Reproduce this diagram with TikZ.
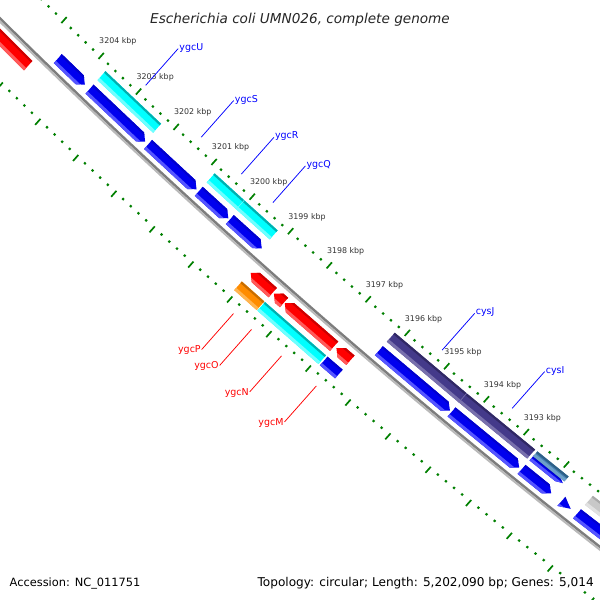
\documentclass[tikz,border=0pt]{standalone}
\usepackage{fontspec}
\setmainfont{DejaVu Sans}
\setsansfont{DejaVu Sans}
\definecolor{gblue}{RGB}{0,0,238}
\definecolor{gbluehi}{RGB}{85,85,255}
\definecolor{gbluelo}{RGB}{0,0,205}
\definecolor{gcyan}{RGB}{0,255,255}
\definecolor{gcyanhi}{RGB}{110,255,255}
\definecolor{gcyanlo}{RGB}{0,175,175}
\definecolor{gred}{RGB}{255,0,0}
\definecolor{gredhi}{RGB}{255,90,90}
\definecolor{gredlo}{RGB}{205,0,0}
\definecolor{gorange}{RGB}{255,140,0}
\definecolor{gorangehi}{RGB}{255,180,80}
\definecolor{gorangelo}{RGB}{200,110,0}
\definecolor{gpurple}{RGB}{68,58,138}
\definecolor{gpurplehi}{RGB}{120,112,172}
\definecolor{gpurplelo}{RGB}{48,40,100}
\definecolor{gsteel}{RGB}{70,130,180}
\definecolor{gsteelhi}{RGB}{110,160,200}
\definecolor{gsteello}{RGB}{45,95,135}
\definecolor{ggrey}{RGB}{200,200,200}
\definecolor{ggreyhi}{RGB}{225,225,225}
\definecolor{ggreylo}{RGB}{170,170,170}
\definecolor{bbdark}{RGB}{125,125,125}
\definecolor{bblight}{RGB}{185,185,185}
\definecolor{tickg}{RGB}{0,128,0}
\definecolor{labblue}{RGB}{0,0,255}
\definecolor{labred}{RGB}{255,0,0}

\makeatletter
\def\gp@parse#1,#2\@nil{\def\gp@s{#1}\def\gp@n{#2}}
\tikzdeclarecoordinatesystem{g}{%
  \gp@parse#1\@nil
  \pgfmathsetmacro\gp@a{abs(\gp@s)/100}%
  \pgfmathsetmacro\gp@q{(\gp@n)+\gp@a*\gp@a*0.7142857}%
  \pgfmathsetmacro\gp@x{310.9+(\gp@s)*0.749+(\gp@q)*0.6626}%
  \pgfmathsetmacro\gp@y{247.2+(\gp@s)*0.6626-(\gp@q)*0.749}%
  \pgfpoint{\gp@x pt}{-\gp@y pt}%
}
\makeatother

% shading of a feature band: s1 s2 n1(outer) n2(inner) colour
\newcommand\gshade[5]{%
  \fill[#5] (g cs:#1-12,#3-1) -- (g cs:#2+12,#3-1) -- (g cs:#2+12,#4+1) -- (g cs:#1-12,#4+1) -- cycle;
  \fill[#5hi] (g cs:#1-12,#3-1) -- (g cs:#2+12,#3-1) -- (g cs:#2+12,#3+3) -- (g cs:#1-12,#3+3) -- cycle;
  \fill[#5lo] (g cs:#1-12,#4-2.2) -- (g cs:#2+12,#4-2.2) -- (g cs:#2+12,#4+1) -- (g cs:#1-12,#4+1) -- cycle;
}
\newcommand\gbar[5]{%
  \begin{scope}
    \clip (g cs:#1,#3) -- (g cs:#2,#3) -- (g cs:#2,#4) -- (g cs:#1,#4) -- cycle;
    \gshade{#1}{#2}{#3}{#4}{#5}%
  \end{scope}}
\newcommand\fwdarrow[5]{%
  \begin{scope}
    \clip (g cs:#1,#3) -- (g cs:#2-7,#3) -- (g cs:#2,{0.5*(#3)+0.5*(#4)}) -- (g cs:#2-7,#4) -- (g cs:#1,#4) -- cycle;
    \gshade{#1}{#2}{#3}{#4}{#5}%
  \end{scope}}
\newcommand\revarrow[5]{%
  \begin{scope}
    \clip (g cs:#1,{0.5*(#3)+0.5*(#4)}) -- (g cs:#1+7,#4) -- (g cs:#2,#4) -- (g cs:#2,#3) -- (g cs:#1+7,#3) -- cycle;
    \gshade{#1}{#2}{#3}{#4}{#5}%
  \end{scope}}
\newcommand\gtri[5]{%
  \begin{scope}
    \clip (g cs:#1,#3) -- (g cs:#2,{0.5*(#3)+0.5*(#4)}) -- (g cs:#1,#4) -- cycle;
    \gshade{#1}{#2}{#3}{#4}{#5}%
  \end{scope}}
\newcommand\uplabel[3]{%
  \draw[uline] (g cs:#1,8) -- (g cs:#1,57) coordinate (#3e);
  \node[genelab, text=labblue, anchor=west, xshift=1pt, yshift=1pt] (#3) at (#3e) {#2};}
\newcommand\lowlabel[3]{%
  \draw[lline] (g cs:#1,-101) -- (g cs:#1,-149) coordinate (#3e);
  \node[genelab, text=labred, anchor=east, xshift=-0.8pt, yshift=-1pt] (#3) at (#3e) {#2};}

\begin{document}
\begin{tikzpicture}[x=1pt,y=-1pt,
  ticklab/.style={font=\fontsize{7.9}{9}\selectfont, text=black!80, inner sep=0pt},
  genelab/.style={font=\fontsize{9.5}{11}\selectfont, inner sep=0pt},
  tickline/.style={draw=tickg, line width=1.7pt},
  uline/.style={draw=labblue, line width=0.75pt},
  lline/.style={draw=labred, line width=0.75pt}]
\useasboundingbox (0,0) rectangle (600,600);
\fill[white] (0,0) rectangle (600,600);
\clip (0,0) rectangle (600,600);

% ruler rings
\foreach \m in {-42,...,42}{%
  \pgfmathsetmacro\ss{25.8+10.32*\m}%
  \pgfmathsetmacro\sl{\ss*1.0133}%
  \pgfmathtruncatemacro\r{mod(abs(\m),5)}%
  \ifnum\r=0
    \draw[tickline] (g cs:\ss,-5.5) -- (g cs:\ss,2.5);
    \draw[tickline] (g cs:\sl,-97) -- (g cs:\sl,-89);
  \else
    \fill[tickg] (g cs:\ss-1.1,-3.6) -- (g cs:\ss+1.1,-3.6) -- (g cs:\ss+1.1,-1.4) -- (g cs:\ss-1.1,-1.4) -- cycle;
    \fill[tickg] (g cs:\sl-1.1,-91.6) -- (g cs:\sl+1.1,-91.6) -- (g cs:\sl+1.1,-89.4) -- (g cs:\sl-1.1,-89.4) -- cycle;
  \fi
}

% backbone
\draw[bbdark, line width=2.5pt] (g cs:-500,-45.25) \foreach \s in {-480,-460,...,520}{-- (g cs:\s,-45.25)};
\draw[bblight, line width=2pt] (g cs:-500,-47.5) \foreach \s in {-480,-460,...,520}{-- (g cs:\s,-47.5)};

% lane -1 (red, reverse)
\revarrow{-520}{-332}{-65.5}{-53}{gred}
\revarrow{-28}{1.5}{-65.5}{-53}{gred}
\revarrow{3}{16.5}{-65.5}{-53}{gred}
\revarrow{17.5}{83}{-65.5}{-53}{gred}
\revarrow{86}{104.5}{-65.5}{-53}{gred}
% lane -2
\gbar{-29}{1}{-83}{-71.5}{gorange}
\gbar{2}{83}{-83}{-71.5}{gcyan}
\gbar{85}{105}{-83}{-71.5}{gblue}
% lane +1 (blue, forward)
\fwdarrow{-314.5}{-277}{-39.5}{-27.5}{gblue}
\fwdarrow{-270.5}{-194}{-39.5}{-27.5}{gblue}
\fwdarrow{-190}{-124}{-39.5}{-27.5}{gblue}
\fwdarrow{-121}{-81}{-39.5}{-27.5}{gblue}
\fwdarrow{-79}{-36}{-39.5}{-27.5}{gblue}
\fwdarrow{119.5}{212.5}{-39.5}{-27.5}{gblue}
\fwdarrow{214.5}{302}{-39.5}{-27.5}{gblue}
\fwdarrow{305}{343}{-39.5}{-27.5}{gblue}
\gtri{356}{368}{-39.5}{-27.5}{gblue}
\fwdarrow{376}{560}{-39.5}{-27.5}{gblue}
% lane +2
\gbar{-270.5}{-194}{-21.5}{-9.5}{gcyan}
\gbar{-121}{-81}{-21.5}{-9.5}{gcyan}
\gbar{-81}{-36}{-21.5}{-9.5}{gcyan}
\draw[gcyanhi, line width=0.5pt] (g cs:-81,-21.5) -- (g cs:-81,-9.5);
\gbar{119.5}{213.5}{-21.5}{-9.5}{gpurple}
\gbar{213.5}{302}{-21.5}{-9.5}{gpurple}
\draw[gpurplehi, line width=0.6pt] (g cs:213.5,-21.5) -- (g cs:213.5,-9.5);
\fwdarrow{305}{345}{-21.5}{-15}{gblue}
\gbar{305}{345}{-16}{-9.5}{gsteel}
\gbar{376}{560}{-21.5}{-9.5}{ggrey}

% ruler labels
\foreach \k in {0,...,11}{%
  \pgfmathtruncatemacro\kb{3204-\k}%
  \pgfmathsetmacro\ls{-295+51.6*\k}%
  \node[ticklab, anchor=west] (t\kb) at (g cs:\ls,7.5) {\kb\ kbp};
}

% gene labels
\uplabel{-231}{ygcU}{lU}
\uplabel{-155}{ygcS}{lS}
\uplabel{-100.5}{ygcR}{lR}
\uplabel{-58}{ygcQ}{lQ}
\uplabel{166.5}{cysJ}{lJ}
\uplabel{257.5}{cysI}{lI}
\lowlabel{-14}{ygcP}{lP}
\lowlabel{10}{ygcO}{lO}
\lowlabel{50}{ygcN}{lN}
\lowlabel{96}{ygcM}{lM}

% title and legend
\node[font=\itshape\fontsize{13.6}{16}\selectfont, text=black!85, anchor=base, inner sep=0pt] (title) at (300,23) {Escherichia coli UMN026, complete genome};
\node[font=\fontsize{11.4}{13}\selectfont, anchor=base west, fill=white, inner sep=1pt] (acc) at (8.5,586) {Accession: NC\_011751};
\node[font=\fontsize{12.1}{14}\selectfont, anchor=base east, fill=white, inner sep=1pt] (topo) at (595,586) {Topology: circular; Length: 5,202,090 bp; Genes: 5,014};
\end{tikzpicture}
\end{document}
